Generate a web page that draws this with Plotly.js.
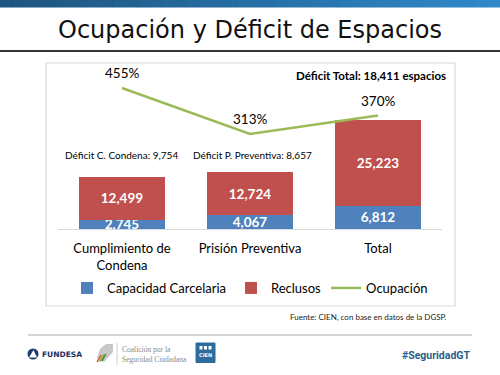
<!DOCTYPE html>
<html>
<head>
<meta charset="utf-8">
<script src="https://cdn.plot.ly/plotly-3.0.1.min.js"></script>
<style>html,body{margin:0;padding:0;background:#fff;}#chart{width:500px;height:375px;}</style>
</head>
<body>
<div id="chart"></div>
<script>
// ---- data ----
const categories = ["Cumplimiento de<br>Condena", "Prisión Preventiva", "Total"];
const capacidad = [2745, 4067, 6812];
const reclusos = [12499, 12724, 25223];
const ocupacion = [455, 313, 370];
const deficitLabels = ["Déficit C. Condena: 9,754", "Déficit P. Preventiva: 8,657"];
const deficitTotal = "Déficit Total: 18,411 espacios";
const titleText = "Ocupación y Déficit de Espacios";
const sourceText = "Fuente: CIEN, con base en datos de la DGSP.";

// ---- geometry helpers (pixel -> paper) ----
const L = 58, R = 442, T = 65, B = 229;
const px = p => (p - L) / (R - L);
const py = p => (B - p) / (B - T);
const FONT = "Lato, 'Open Sans', sans-serif";

const fmt = v => v.toLocaleString('en-US');

const traces = [
  {
    type: 'bar', name: 'Capacidad Carcelaria', x: categories, y: capacidad,
    marker: {color: '#4f81bd'},
    text: capacidad.map(fmt), textposition: 'inside', insidetextanchor: 'middle',
    textangle: 0, constraintext: 'none', cliponaxis: false,
    textfont: {color: '#ffffff', size: 13.5, family: FONT, weight: 'bold'},
    hoverinfo: 'skip'
  },
  {
    type: 'bar', name: 'Reclusos', x: categories, y: reclusos,
    marker: {color: '#c0504d'},
    text: reclusos.map(fmt), textposition: 'inside', insidetextanchor: 'middle',
    textangle: 0, constraintext: 'none', cliponaxis: false,
    textfont: {color: '#ffffff', size: 13.5, family: FONT, weight: 'bold'},
    hoverinfo: 'skip'
  },
  {
    type: 'scatter', mode: 'lines', name: 'Ocupación', x: categories, y: ocupacion,
    yaxis: 'y2', line: {color: '#9bbb59', width: 2.5}, hoverinfo: 'skip'
  }
];

const shapes = [];
const annotations = [];

// top gradient band
const c1 = [28, 85, 128], c2 = [48, 136, 200];
const N = 40;
for (let i = 0; i < N; i++) {
  const t = i / (N - 1);
  const c = c1.map((v, k) => Math.round(v + (c2[k] - v) * t));
  shapes.push({type: 'rect', xref: 'paper', yref: 'paper',
    x0: px(500 * i / N), x1: px(500 * (i + 1) / N + 0.5), y0: py(0), y1: py(7.5),
    fillcolor: `rgb(${c[0]},${c[1]},${c[2]})`, line: {width: 0}, layer: 'below'});
}
// title rule
shapes.push({type: 'line', xref: 'paper', yref: 'paper', x0: px(0), x1: px(500), y0: py(51), y1: py(51),
  line: {color: '#333333', width: 2}});
// chart box
shapes.push({type: 'rect', xref: 'paper', yref: 'paper', x0: px(46), x1: px(455), y0: py(63), y1: py(306),
  line: {color: '#d9d9d9', width: 1.2}, fillcolor: 'rgba(0,0,0,0)', layer: 'below'});
// footer rule
shapes.push({type: 'line', xref: 'paper', yref: 'paper', x0: px(28), x1: px(472), y0: py(335), y1: py(335),
  line: {color: '#d6d6d6', width: 2}});
// FUNDESA icon
shapes.push({type: 'circle', xref: 'paper', yref: 'paper', x0: px(27.5), x1: px(38.5), y0: py(348.5), y1: py(359.5),
  fillcolor: '#1f3a6b', line: {width: 0}});
shapes.push({type: 'path', xref: 'paper', yref: 'paper',
  path: `M ${px(29)} ${py(357.5)} L ${px(33.5)} ${py(350)} L ${px(37)} ${py(357.5)} Z`,
  fillcolor: '#ffffff', line: {width: 0}});
// Coalición icon
shapes.push({type: 'path', xref: 'paper', yref: 'paper',
  path: `M ${px(100)} ${py(349)} L ${px(106)} ${py(344)} L ${px(113)} ${py(344)} L ${px(113)} ${py(352)} L ${px(104)} ${py(362)} L ${px(97)} ${py(358)} Z`,
  fillcolor: '#c8c8c8', line: {width: 0}});
const stripeCols = ['#d04a3a', '#e9a23b', '#7ab04c', '#3d8a3d'];
stripeCols.forEach((col, i) => {
  shapes.push({type: 'line', xref: 'paper', yref: 'paper',
    x0: px(97 + i * 1.6), y0: py(362 - i * 0.3), x1: px(101 + i * 1.6), y1: py(355 - i * 0.3),
    line: {color: col, width: 1.3}});
});
shapes.push({type: 'line', xref: 'paper', yref: 'paper', x0: px(117), x1: px(117), y0: py(343), y1: py(365),
  line: {color: '#d0d0d0', width: 1}});
// CIEN logo
shapes.push({type: 'rect', xref: 'paper', yref: 'paper', x0: px(196), x1: px(215), y0: py(343), y1: py(362.5),
  fillcolor: '#2c6d9e', line: {color: '#2c6d9e', width: 1}});
[199.5, 204, 208.5].forEach(x => {
  shapes.push({type: 'rect', xref: 'paper', yref: 'paper', x0: px(x), x1: px(x + 3), y0: py(346), y1: py(349.5),
    fillcolor: '#ffffff', line: {width: 0}});
});

function ann(text, x, y, opts) {
  annotations.push(Object.assign({text, xref: 'paper', yref: 'paper', x: px(x), y: py(y),
    showarrow: false, xanchor: 'center', yanchor: 'middle',
    font: {family: FONT, size: 12, color: '#000'}}, opts || {}));
}

// title
ann(titleText, 250, 30, {font: {family: "'DejaVu Sans', sans-serif", size: 24, color: '#111'}});
// occupancy labels
categories.forEach((c, i) => {
  annotations.push({text: ocupacion[i] + '%', x: c, y: ocupacion[i], xref: 'x', yref: 'y2',
    showarrow: false, yshift: 15, font: {family: FONT, size: 13.5, color: '#000'}});
});
// deficit labels
const deficitX = [121.5, 252];
deficitLabels.forEach((t, i) => {
  ann(t, deficitX[i], 155, {font: {family: FONT, size: 10, color: '#000'}});
});
ann('<b>' + deficitTotal + '</b>', 448, 75, {xanchor: 'right', font: {family: FONT, size: 11.5, color: '#000'}});
// source
ann(sourceText, 449, 317, {xanchor: 'right', font: {family: FONT, size: 8, color: '#222'}});
// logos text
ann('<b>FUNDESA</b>', 40, 354.5, {xanchor: 'left', font: {family: "'DejaVu Sans', sans-serif", size: 7.5, color: '#1f2f5a'}});
ann('Coalición por la<br>Seguridad Ciudadana', 120, 354, {xanchor: 'left', align: 'left',
  font: {family: "'Liberation Serif', serif", size: 7.5, color: '#8a8a8a'}});
ann('<b>CIEN</b>', 205.5, 355, {font: {family: "'DejaVu Sans', sans-serif", size: 5, color: '#ffffff'}});
ann('<b>#SeguridadGT</b>', 472, 355, {xanchor: 'right', font: {family: "Roboto, sans-serif", size: 10.5, color: '#2c5d8c'}});

const layout = {
  width: 500, height: 375, autosize: false,
  margin: {l: L, r: 500 - R, t: T, b: 375 - B, pad: 0},
  paper_bgcolor: '#ffffff', plot_bgcolor: 'rgba(0,0,0,0)',
  barmode: 'stack', bargap: 0.335,
  showlegend: true,
  legend: {orientation: 'h', x: 0.5, xanchor: 'center', y: py(288), yanchor: 'middle',
    traceorder: 'normal', itemwidth: 30, font: {family: FONT, size: 13, color: '#000'}, bgcolor: 'rgba(0,0,0,0)'},
  xaxis: {type: 'category', showline: true, linecolor: '#d9d9d9', linewidth: 1, ticks: '',
    tickfont: {family: FONT, size: 13, color: '#000'}, showgrid: false, zeroline: false,
    fixedrange: true, ticklabelstandoff: 7},
  yaxis: {range: [0, 48200], visible: false, showgrid: false, zeroline: false, fixedrange: true},
  yaxis2: {range: [19.7, 526], overlaying: 'y', side: 'right', visible: false, showgrid: false,
    zeroline: false, fixedrange: true},
  shapes, annotations
};

Plotly.newPlot('chart', traces, layout, {displayModeBar: false, staticPlot: true});
</script>
</body>
</html>
